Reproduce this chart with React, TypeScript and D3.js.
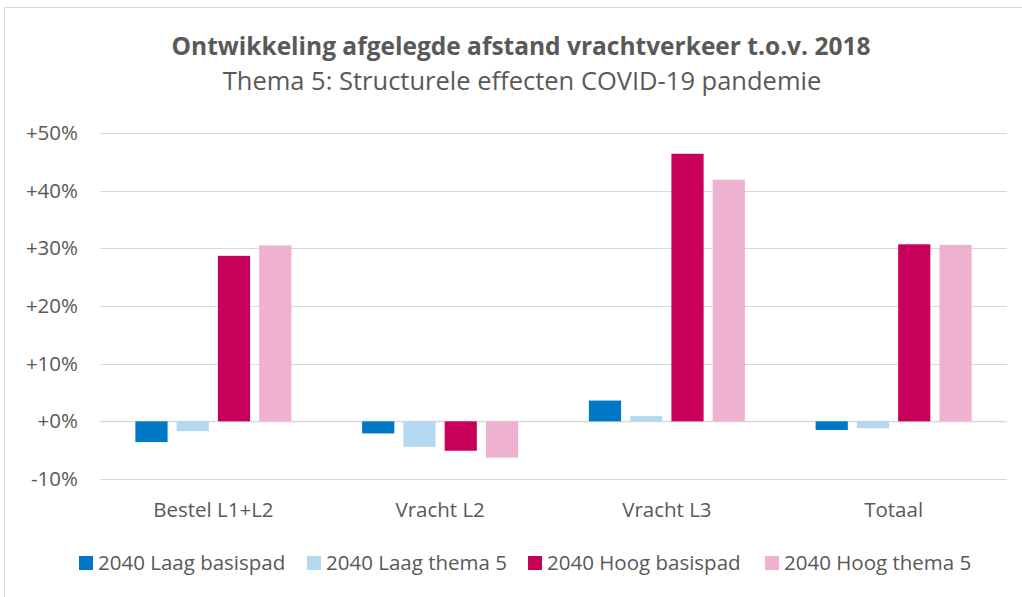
import React from "react";
import * as d3 from "d3";

const categories = ["Bestel L1+L2", "Vracht L2", "Vracht L3", "Totaal"];
const seriesNames = ["2040 Laag basispad", "2040 Laag thema 5", "2040 Hoog basispad", "2040 Hoog thema 5"];
const laagBasispad = [-3.6, -2.1, 3.6, -1.5];
const laagThema5 = [-1.7, -4.4, 0.9, -1.2];
const hoogBasispad = [28.7, -5.1, 46.4, 30.7];
const hoogThema5 = [30.5, -6.3, 41.9, 30.6];
const seriesValues = [laagBasispad, laagThema5, hoogBasispad, hoogThema5];
const colors = ["#0078C8", "#B4D8F0", "#C8005A", "#EEB2D0"];
const yTicks = [-10, 0, 10, 20, 30, 40, 50];

const W = 1022;
const H = 597;
const FONT = "'Open Sans', sans-serif";
const TEXT = "#595959";
const SMALL = 20.5;

export default function App() {
  const plotLeft = 100;
  const plotRight = 1007;
  const y = d3.scaleLinear().domain([-10, 50]).range([479, 133]);
  const x0 = d3.scaleBand().domain(categories).range([plotLeft, plotRight]).padding(0);
  const groupHalf = 78;
  const x1 = d3
    .scaleBand()
    .domain(seriesNames)
    .range([-groupHalf, groupHalf])
    .paddingInner(0.22)
    .paddingOuter(0);

  const legendX = [79, 307, 528, 765];

  return (
    <svg
      width={W}
      height={H}
      style={{ position: "absolute", left: 0, top: 0, background: "#fff" }}
      fontFamily={FONT}
    >
      <rect x={0} y={0} width={W} height={H} fill="#fff" />
      <path d={`M4.5,${H} V7.5 H${W}`} fill="none" stroke="#d9d9d9" strokeWidth={1} />

      <text x={521} y={55} textAnchor="middle" fontSize={24.5} fontWeight="bold" fill={TEXT}>
        Ontwikkeling afgelegde afstand vrachtverkeer t.o.v. 2018
      </text>
      <text x={522} y={90} textAnchor="middle" fontSize={25.5} fill={TEXT}>
        Thema 5: Structurele effecten COVID-19 pandemie
      </text>

      {yTicks.map((t) => (
        <g key={t}>
          <line
            x1={plotLeft}
            x2={plotRight}
            y1={Math.round(y(t)) + 0.5}
            y2={Math.round(y(t)) + 0.5}
            stroke="#d9d9d9"
            strokeWidth={t === 0 ? 1.5 : 1}
          />
          <text x={78} y={y(t) + 7} textAnchor="end" fontSize={SMALL} fill={TEXT}>
            {(t >= 0 ? "+" : "") + t + "%"}
          </text>
        </g>
      ))}

      {categories.map((c, ci) => {
        const cx = (x0(c) as number) + x0.bandwidth() / 2;
        return (
          <g key={c}>
            {seriesNames.map((s, si) => {
              const v = seriesValues[si][ci];
              const bx = cx + (x1(s) as number);
              const top = Math.min(y(v), y(0));
              const h = Math.abs(y(v) - y(0));
              return <rect key={s} x={bx} y={top} width={x1.bandwidth()} height={h} fill={colors[si]} />;
            })}
            <text x={cx} y={517} textAnchor="middle" fontSize={SMALL} fill={TEXT}>
              {c}
            </text>
          </g>
        );
      })}

      {seriesNames.map((s, si) => (
        <g key={s}>
          <rect x={legendX[si]} y={556} width={14} height={14} fill={colors[si]} />
          <text x={legendX[si] + 19} y={570} fontSize={SMALL} fill={TEXT}>
            {s}
          </text>
        </g>
      ))}
    </svg>
  );
}
